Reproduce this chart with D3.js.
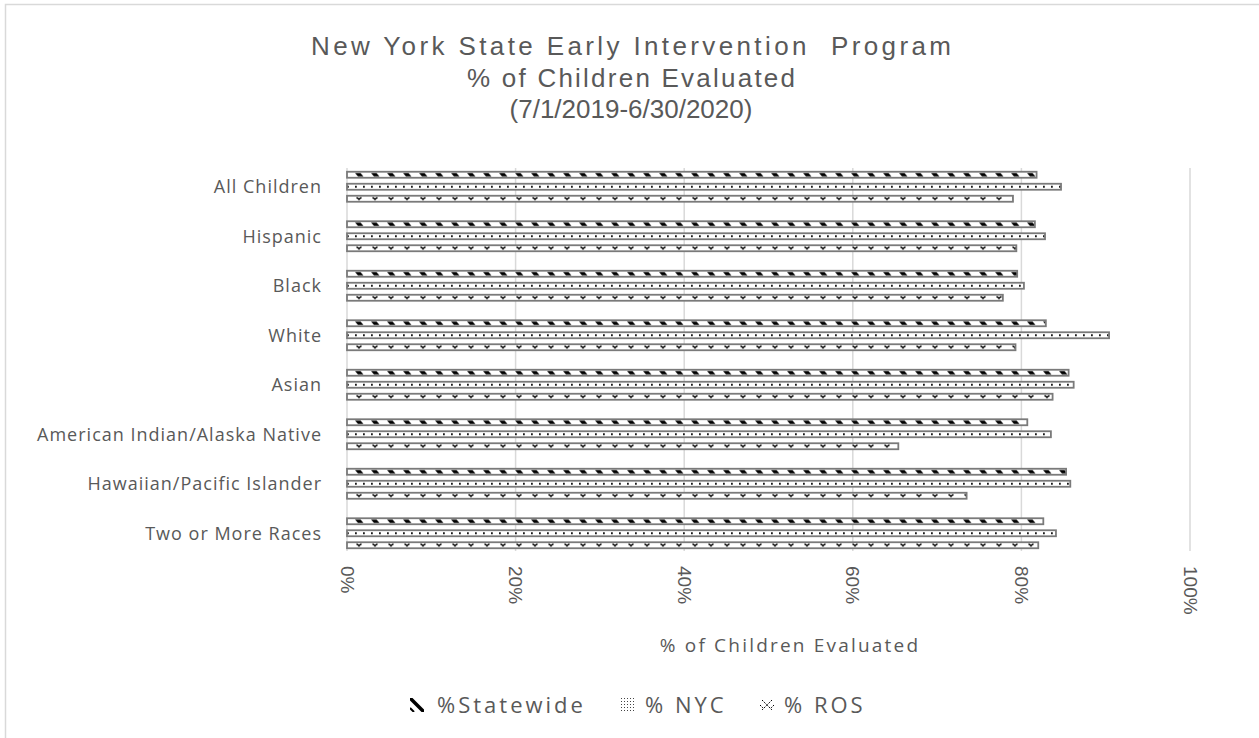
<!DOCTYPE html>
<html>
  <head>
    <meta charset="utf-8">
    <title>EI children evaluated</title>
    <script src="https://cdn.jsdelivr.net/npm/d3@7"></script>
    <style>
      body { margin: 0; background: #fff; }
      text { fill: #595959; }
    </style>
  </head>
  <body>
    <svg id="chart" width="1259" height="738"></svg>

    <script>
      // data
      const categories = ["All Children", "Hispanic", "Black", "White", "Asian",
        "American Indian/Alaska Native", "Hawaiian/Pacific Islander", "Two or More Races"];
      const seriesNames = ["%Statewide", "% NYC", "% ROS"];
      const statewide = [0.818, 0.816, 0.795, 0.829, 0.856, 0.807, 0.853, 0.826];
      const nyc = [0.847, 0.828, 0.803, 0.904, 0.862, 0.835, 0.858, 0.841];
      const ros = [0.790, 0.794, 0.778, 0.793, 0.837, 0.654, 0.735, 0.820];
      const ticks = [0, 0.2, 0.4, 0.6, 0.8, 1];
      const titleLines = ["New York State Early Intervention  Program",
        "% of Children Evaluated", "(7/1/2019-6/30/2020)"];

      const svg = d3.select("#chart");
      const defs = svg.append("defs");

      // bar patterns (tile height = bar height, bars are drawn at y=0 in their own group)
      const barH = 6;
      let p = defs.append("pattern").attr("id", "pState")
        .attr("patternUnits", "userSpaceOnUse").attr("width", 16).attr("height", barH);
      p.append("rect").attr("width", 16).attr("height", barH).attr("fill", "#fff");
      p.append("polygon").attr("points", "3,1.2 8.5,1.2 11.5,4.8 6,4.8").attr("fill", "#000");

      p = defs.append("pattern").attr("id", "pNyc")
        .attr("patternUnits", "userSpaceOnUse").attr("width", 8).attr("height", barH);
      p.append("rect").attr("width", 8).attr("height", barH).attr("fill", "#fff");
      p.append("rect").attr("x", 3).attr("y", 2.1).attr("width", 1.8).attr("height", 1.8).attr("fill", "#000");

      p = defs.append("pattern").attr("id", "pRos")
        .attr("patternUnits", "userSpaceOnUse").attr("width", 16).attr("height", barH);
      p.append("rect").attr("width", 16).attr("height", barH).attr("fill", "#fff");
      p.append("path").attr("d", "M4.5,1.6 L7,3.4 L9.5,1.6 M7,3.4 L7,4.6")
        .attr("stroke", "#000").attr("stroke-width", 1.3).attr("fill", "none");

      // legend swatch patterns
      p = defs.append("pattern").attr("id", "lState")
        .attr("patternUnits", "userSpaceOnUse").attr("width", 14).attr("height", 14);
      p.append("rect").attr("width", 14).attr("height", 14).attr("fill", "#fff");
      p.append("path").attr("d", "M0,0 L14,14").attr("stroke", "#000").attr("stroke-width", 3.5);
      p.append("path").attr("d", "M0,10 L4,14").attr("stroke", "#000").attr("stroke-width", 2);
      p = defs.append("pattern").attr("id", "lNyc")
        .attr("patternUnits", "userSpaceOnUse").attr("width", 3).attr("height", 3);
      p.append("rect").attr("width", 3).attr("height", 3).attr("fill", "#fff");
      p.append("rect").attr("width", 1).attr("height", 1).attr("fill", "#444");
      p = defs.append("pattern").attr("id", "lRos")
        .attr("patternUnits", "userSpaceOnUse").attr("width", 14).attr("height", 14);
      p.append("rect").attr("width", 14).attr("height", 14).attr("fill", "#fff");
      p.append("path").attr("d", "M2,2 L12,12 M12,2 L2,12 M0,7 L3,10 M14,7 L11,10")
        .attr("stroke", "#000").attr("stroke-width", 1).attr("stroke-dasharray", "1.5,1");

      const fills = ["url(#pState)", "url(#pNyc)", "url(#pRos)"];
      const legendFills = ["url(#lState)", "url(#lNyc)", "url(#lRos)"];

      // chart frame
      svg.append("rect")
        .attr("x", 5.5).attr("y", 4.5)
        .attr("width", 1300).attr("height", 800)
        .attr("fill", "none").attr("stroke", "#d9d9d9").attr("stroke-width", 1.5);

      // title - first two lines are spaced out wide in the original
      const titleWidths = [640, 328, null];
      svg.append("g").selectAll("text")
        .data(titleLines)
        .enter().append("text")
          .attr("x", 631)
          .attr("y", function(d, i) { return 55 + i * 31.5; })
          .attr("text-anchor", "middle")
          .attr("textLength", function(d, i) { return titleWidths[i]; })
          .attr("lengthAdjust", "spacing")
          .style("font-family", "'Liberation Sans', Arial, sans-serif")
          .style("font-size", "26px")
          .style("white-space", "pre")
          .text(function(d) { return d; });

      // scales
      const x = d3.scaleLinear().domain([0, 1]).range([347, 1190]);
      const y = d3.scaleBand().domain(categories).range([162, 558]);

      // gridlines
      svg.append("g").selectAll("line")
        .data(ticks)
        .enter().append("line")
          .attr("x1", function(d) { return x(d); })
          .attr("x2", function(d) { return x(d); })
          .attr("y1", 168).attr("y2", 551)
          .attr("stroke", "#d9d9d9").attr("stroke-width", 1.5);

      // tick labels (rotated)
      svg.append("g").selectAll("text")
        .data(ticks)
        .enter().append("text")
          .attr("transform", function(d) { return "translate(" + (x(d) - 6.5) + ",566) rotate(90)"; })
          .style("font-family", "'Liberation Sans', Arial, sans-serif")
          .style("font-size", "19px")
          .text(d3.format(".0%"));

      // category labels
      svg.append("g").selectAll("text")
        .data(categories)
        .enter().append("text")
          .attr("x", 322)
          .attr("y", function(d) { return y(d) + y.bandwidth() / 2; })
          .attr("dy", "0.35em")
          .attr("text-anchor", "end")
          .style("font-family", "'Open Sans', sans-serif")
          .style("font-size", "18px")
          .style("letter-spacing", "1px")
          .text(function(d) { return d; });

      // bars
      const seriesVals = [statewide, nyc, ros];
      const offsets = [-12, 0, 12];
      seriesVals.forEach(function(vals, s) {
        svg.append("g").selectAll("g")
          .data(categories)
          .enter().append("g")
            .attr("transform", function(d) {
              return "translate(0," + (y(d) + y.bandwidth() / 2 + offsets[s] - barH / 2) + ")";
            })
          .append("rect")
            .attr("x", x(0))
            .attr("y", 0)
            .attr("width", function(d, i) { return x(vals[i]) - x(0); })
            .attr("height", barH)
            .attr("fill", fills[s])
            .attr("stroke", "#7a7a7a")
            .attr("stroke-width", 1.8);
      });

      // axis title
      svg.append("text")
        .attr("x", 790).attr("y", 652)
        .attr("text-anchor", "middle")
        .style("font-family", "'Open Sans', sans-serif")
        .style("font-size", "19px")
        .style("letter-spacing", "2.2px")
        .text("% of Children Evaluated");

      // legend
      const legendX = [410, 621, 760];
      const legend = svg.append("g").selectAll("g")
        .data(seriesNames)
        .enter().append("g")
          .attr("transform", function(d, i) { return "translate(" + legendX[i] + ",698)"; });
      legend.append("rect")
        .attr("width", 14).attr("height", 14)
        .attr("fill", function(d, i) { return legendFills[i]; });
      legend.append("text")
        .attr("x", function(d, i) { return i == 0 ? 27 : 24; })
        .attr("y", 7).attr("dy", "0.36em")
        .style("font-family", "'Open Sans', sans-serif")
        .style("font-size", "22px")
        .style("letter-spacing", "3px")
        .text(function(d) { return d; });
    </script>
  </body>
</html>
